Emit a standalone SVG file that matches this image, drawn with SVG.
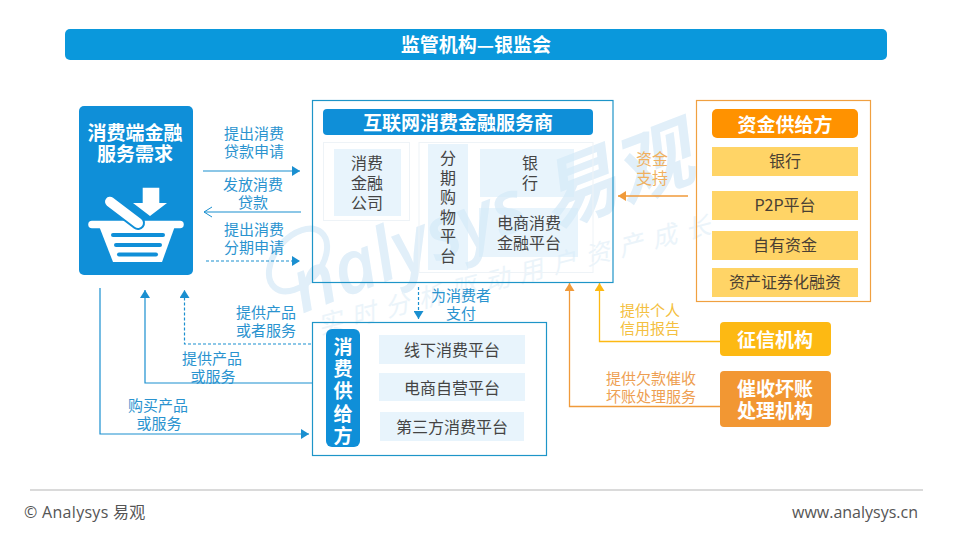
<svg xmlns="http://www.w3.org/2000/svg" width="960" height="540" viewBox="0 0 960 540">
<style>
text{font-family:"Noto Sans CJK SC","Noto Sans",sans-serif;text-anchor:middle;dominant-baseline:central}
.h{font-size:19px;font-weight:700;fill:#fff}
.t{font-size:16px;fill:#444}
.o{font-size:16px;fill:#4a4033}
.l{font-size:15px;fill:#2a93cf}
.lo{font-size:16px;fill:#f0b060}
.ly{font-size:15px;fill:#f4c040}
.lr{font-size:15px;fill:#ee9f52}
.c{fill:none;stroke:#1a8fd0;stroke-width:1.2}
.d{stroke-dasharray:3 2}
.y{fill:none;stroke-width:1.3}
.tile{fill:#d6ebfa;fill-opacity:.55}
.gold{fill:#ffd466}
.frame{fill:none;stroke:#eef3f7;stroke-width:1}
.wm{fill:#e1eff9;font-style:italic;font-family:"Open Sans","Noto Sans",sans-serif}
.wz{font-family:"Noto Sans CJK SC",sans-serif}
.wc{fill:#ebf4fa;font-size:25px;letter-spacing:9.500px}
.f{font-size:16px;fill:#555;font-family:"Open Sans","Noto Sans CJK SC",sans-serif}
</style>
<defs>
<marker id="ab" markerUnits="userSpaceOnUse" markerWidth="9" markerHeight="10" refX="8" refY="5" orient="auto"><path d="M0 0L8 5L0 10Z" fill="#1a8fd0"/></marker>
<marker id="ao" markerUnits="userSpaceOnUse" markerWidth="10" markerHeight="12" refX="9" refY="6" orient="auto"><path d="M1 1L9 6L1 11" fill="none" stroke="#1a8fd0" stroke-width="1"/></marker>
<marker id="ay" markerUnits="userSpaceOnUse" markerWidth="9" markerHeight="10" refX="8" refY="5" orient="auto"><path d="M0 0L8 5L0 10Z" fill="#fdb913"/></marker>
<marker id="ar" markerUnits="userSpaceOnUse" markerWidth="9" markerHeight="10" refX="8" refY="5" orient="auto"><path d="M0 0L8 5L0 10Z" fill="#f09a3a"/></marker>
</defs>
<rect width="960" height="540" fill="#fff"/>
<g id="watermark">
<ellipse cx="298" cy="260" rx="36" ry="23" transform="rotate(-50 298 260)" fill="none" stroke="#e1eff9" stroke-width="6"/>
<text class="wm" x="407" y="243" font-size="74" font-weight="600" transform="rotate(-21 407 243)">nalysys</text>
<text class="wm wz" x="576" y="183" font-size="78" font-weight="700" transform="rotate(-21 576 183)">易</text>
<text class="wm wz" x="650" y="158" font-size="78" font-weight="700" transform="rotate(-21 650 158)">观</text>
<text class="wm wz wc" x="518" y="272" transform="rotate(-14.500 518 272)">实时分析驱动用户资产成长</text>
</g>
<g id="title"><rect x="65" y="29" width="822" height="31" rx="5" fill="#0a98dc"/><text class="h" x="476" y="43.500">监管机构—银监会</text></g>
<g id="connectors">
<path class="c" d="M203 171H300" marker-end="url(#ab)"/>
<path class="c" d="M301 212H204" marker-end="url(#ao)"/>
<path class="c d" d="M206 261H300" marker-end="url(#ab)"/>
<path class="c" d="M100 288V434H309" marker-end="url(#ab)"/>
<path class="c" d="M312 383H145V290" marker-end="url(#ab)"/>
<path class="c d" d="M311 344H184.500V290" marker-end="url(#ab)"/>
<path class="c d" d="M418.500 287V319" marker-end="url(#ab)"/>
<path class="y" stroke="#f09a3a" d="M688 196H618" marker-end="url(#ar)"/>
<path class="y" stroke="#fdb913" d="M720 341.500H599.500V283" marker-end="url(#ay)"/>
<path class="y" stroke="#f09a3a" d="M720 406.500H569.500V283" marker-end="url(#ar)"/>
</g>
<g id="edge-labels">
<text class="l" y="131.500"><tspan x="254">提出消费</tspan><tspan x="254" dy="18">贷款申请</tspan></text>
<text class="l" y="182.500"><tspan x="253">发放消费</tspan><tspan x="253" dy="18">贷款</tspan></text>
<text class="l" y="227.500"><tspan x="254">提出消费</tspan><tspan x="254" dy="18">分期申请</tspan></text>
<text class="l" y="310.500"><tspan x="266">提供产品</tspan><tspan x="266" dy="18">或者服务</tspan></text>
<text class="l" y="356.500"><tspan x="212">提供产品</tspan><tspan x="213" dy="18">或服务</tspan></text>
<text class="l" y="403.500"><tspan x="158">购买产品</tspan><tspan x="159" dy="18">或服务</tspan></text>
<text class="l" y="293.500"><tspan x="461">为消费者</tspan><tspan x="461" dy="18">支付</tspan></text>
<text class="lo" y="157.500"><tspan x="652">资金</tspan><tspan x="652" dy="19">支持</tspan></text>
<text class="ly" y="308.500"><tspan x="650">提供个人</tspan><tspan x="650" dy="18">信用报告</tspan></text>
<text class="lr" y="376.500"><tspan x="651">提供欠款催收</tspan><tspan x="651" dy="18">坏账处理服务</tspan></text>
</g>
<g id="demand">
<rect x="79" y="106" width="114" height="169" rx="5" fill="#0f8fd8"/>
<text class="h" y="131"><tspan x="135">消费端金融</tspan><tspan x="135" dy="20.500">服务需求</tspan></text>
<path d="M142.700 187.700H159.300V203H167L150 216L133 203H142.700Z" fill="#fff"/>
<path d="M92 224.500H180" stroke="#fff" stroke-width="7.500" stroke-linecap="round"/>
<path d="M99 226H175L162 262H113Z" fill="#fff"/>
<path d="M110 201.700L138 223" stroke="#0f8fd8" stroke-width="14" stroke-linecap="round"/>
<path d="M110 201.700L138 223" stroke="#fff" stroke-width="10" stroke-linecap="round"/>
<g fill="#0f8fd8"><rect x="111" y="233" width="54" height="4" rx="2"/><rect x="114" y="243" width="48" height="4" rx="2"/><rect x="117" y="252.500" width="41" height="4" rx="2"/></g>
</g>
<g id="provider">
<rect x="312.500" y="100.500" width="300.500" height="182" fill="none" stroke="#1e95c8" stroke-width="1.200"/>
<rect x="323" y="109" width="270" height="26" rx="4" fill="#0f8fd8"/>
<text class="h" x="458" y="121">互联网消费金融服务商</text>
<rect class="frame" x="323.500" y="142.500" width="86" height="78"/>
<rect class="frame" x="419" y="142.500" width="174" height="130"/>
<rect class="tile" x="334" y="149" width="67" height="67"/>
<rect class="tile" x="428" y="144" width="40" height="126"/>
<rect class="tile" x="480" y="149" width="94" height="48"/>
<rect class="tile" x="479" y="208" width="99" height="49"/>
<text class="t" y="162"><tspan x="367">消费</tspan><tspan x="367" dy="20">金融</tspan><tspan x="367" dy="20">公司</tspan></text>
<text class="t" y="157"><tspan x="448">分</tspan><tspan x="448" dy="19.600">期</tspan><tspan x="448" dy="19.600">购</tspan><tspan x="448" dy="19.600">物</tspan><tspan x="448" dy="19.600">平</tspan><tspan x="448" dy="19.600">台</tspan></text>
<text class="t" y="162"><tspan x="530">银</tspan><tspan x="530" dy="20">行</tspan></text>
<text class="t" y="222"><tspan x="529">电商消费</tspan><tspan x="529" dy="20">金融平台</tspan></text>
</g>
<g id="funding">
<rect x="696.500" y="100.500" width="174" height="201" fill="none" stroke="#f0a040" stroke-width="1.200"/>
<rect x="712" y="109" width="146" height="29" rx="5" fill="#ff9200"/>
<text class="h" x="785" y="123">资金供给方</text>
<rect class="gold" x="712" y="147" width="146" height="29"/><text class="o" x="785" y="160">银行</text>
<rect class="gold" x="712" y="191" width="146" height="29"/><text class="o" x="785" y="204">P2P平台</text>
<rect class="gold" x="712" y="231" width="146" height="29"/><text class="o" x="785" y="244">自有资金</text>
<rect class="gold" x="712" y="268" width="146" height="29"/><text class="o" x="785" y="281">资产证券化融资</text>
</g>
<g id="credit"><rect x="720" y="322" width="111" height="34" rx="4" fill="#fdb913"/><text class="h" x="775" y="338">征信机构</text></g>
<g id="collection"><rect x="720" y="371" width="111" height="56" rx="4" fill="#f29733"/><text class="h" y="387"><tspan x="775">催收坏账</tspan><tspan x="775" dy="22">处理机构</tspan></text></g>
<g id="consumer-supply">
<rect x="312.500" y="322.500" width="234" height="133" fill="none" stroke="#1e95c8" stroke-width="1.200"/>
<rect x="326" y="329" width="34" height="118" rx="6" fill="#0f8fd8"/>
<text class="h" y="345"><tspan x="343">消</tspan><tspan x="343" dy="22.200">费</tspan><tspan x="343" dy="22.200">供</tspan><tspan x="343" dy="22.200">给</tspan><tspan x="343" dy="22.200">方</tspan></text>
<rect class="tile" x="379" y="335" width="146" height="29"/><text class="t" x="452" y="349">线下消费平台</text>
<rect class="tile" x="379" y="373" width="146" height="28"/><text class="t" x="452" y="387">电商自营平台</text>
<rect class="tile" x="380" y="412" width="144" height="29"/><text class="t" x="452" y="426">第三方消费平台</text>
</g>
<g id="footer">
<path d="M30 490H923" stroke="#b5b5b5" stroke-width="1"/>
<text class="f" x="24" y="512" style="text-anchor:start;letter-spacing:.3px">© Analysys 易观</text>
<text class="f" x="918" y="512" style="text-anchor:end">www.analysys.cn</text>
</g>
</svg>
